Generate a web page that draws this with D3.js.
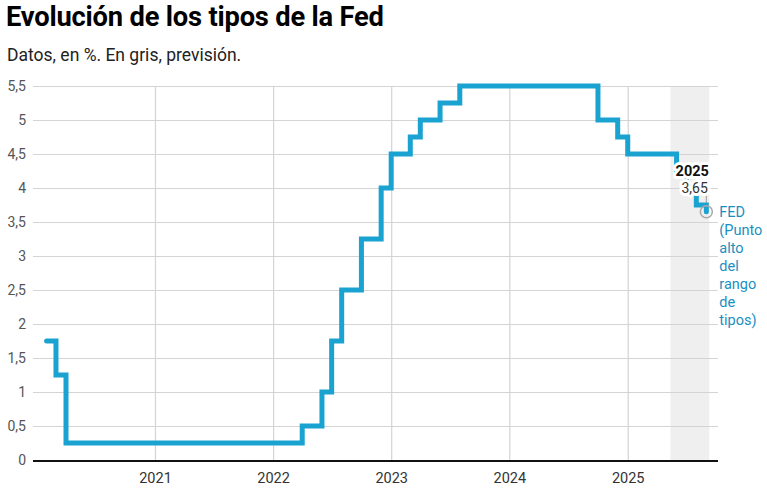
<!DOCTYPE html>
<html>
<head>
<meta charset="utf-8">
<script src="https://cdn.jsdelivr.net/npm/d3@7"></script>
<style>
  html, body { margin: 0; padding: 0; background: #fff; }
  svg { display: block; font-family: Roboto, "Noto Sans", sans-serif; }
</style>
</head>
<body>
<svg id="chart" width="767" height="491"></svg>
<script>
// ---- Data (step-after: each value holds until the next date) ----
const changeDates = ["2020-02-01","2020-03-01","2020-04-01","2022-04-01","2022-06-01","2022-07-01","2022-08-01","2022-10-01","2022-12-01","2023-01-01","2023-03-01","2023-04-01","2023-06-01","2023-08-01","2024-10-01","2024-12-01","2025-01-01","2025-06-01","2025-07-01","2025-08-01","2025-09-01"];
const rates = [1.75, 1.25, 0.25, 0.5, 1.0, 1.75, 2.5, 3.25, 4.0, 4.5, 4.75, 5.0, 5.25, 5.5, 5.0, 4.75, 4.5, 4.25, 4.0, 3.75, 3.65];
const yTicks = [0, 0.5, 1, 1.5, 2, 2.5, 3, 3.5, 4, 4.5, 5, 5.5];
const xTickYears = [2021, 2022, 2023, 2024, 2025];
const xDomain = ["2019-12-21", "2025-10-07"];
const forecastRange = ["2025-05-13", "2025-09-10"];
const title = "Evolución de los tipos de la Fed";
const subtitle = "Datos, en %. En gris, previsión.";
const seriesLabel = ["FED", "(Punto", "alto", "del", "rango", "de", "tipos)"];
const endLabelYear = "2025";

const parse = d3.timeParse("%Y-%m-%d");
const data = changeDates.map((d, i) => ({ date: parse(d), value: rates[i] }));
const fmt = v => String(v).replace(".", ",");

const svg = d3.select("#chart");
const M = { left: 33, right: 718, top: 86, bottom: 460 };

const x = d3.scaleTime().domain(xDomain.map(parse)).range([M.left, M.right]);
const y = d3.scaleLinear().domain([0, 5.5]).range([M.bottom, M.top]);

// Title & subtitle
svg.append("text").attr("x", 6).attr("y", 26)
  .attr("font-size", 27.3).attr("font-weight", 700).attr("fill", "#000")
  .attr("letter-spacing", -0.2).text(title);
svg.append("text").attr("x", 7).attr("y", 61)
  .attr("font-size", 17.5).attr("fill", "#222").text(subtitle);

// Forecast band
svg.append("rect")
  .attr("x", x(parse(forecastRange[0])))
  .attr("y", y(5.5))
  .attr("width", x(parse(forecastRange[1])) - x(parse(forecastRange[0])))
  .attr("height", y(0) - y(5.5))
  .attr("fill", "#efefef");

// Horizontal grid + y labels
const yAxis = d3.axisLeft(y).tickValues(yTicks).tickSize(-(M.right - M.left)).tickPadding(7)
  .tickFormat(fmt);
const gy = svg.append("g").attr("transform", `translate(${M.left},0)`).call(yAxis);
gy.select(".domain").remove();
gy.selectAll(".tick line").attr("stroke", "#d4d4d4").attr("stroke-width", 1);
gy.selectAll(".tick text").attr("font-size", 14).attr("fill", "#555")
  .attr("font-family", "Roboto, sans-serif");
gy.selectAll(".tick").filter(d => d === 0).select("line").remove();

// Vertical grid + x labels
const xAxis = d3.axisBottom(x).tickValues(xTickYears.map(yr => new Date(yr, 0, 1)))
  .tickSize(-(M.bottom - M.top)).tickPadding(13).tickFormat(d3.timeFormat("%Y"));
const gx = svg.append("g").attr("transform", `translate(0,${M.bottom})`).call(xAxis);
gx.select(".domain").remove();
gx.selectAll(".tick line").attr("stroke", "#d4d4d4").attr("stroke-width", 1.2);
gx.selectAll(".tick text").attr("font-size", 14.5).attr("fill", "#333")
  .attr("font-family", "Roboto, sans-serif");

// Baseline
svg.append("line").attr("x1", M.left).attr("x2", M.right)
  .attr("y1", y(0) + 1).attr("y2", y(0) + 1)
  .attr("stroke", "#111").attr("stroke-width", 2.2);

// Line
const line = d3.line().x(d => x(d.date)).y(d => y(d.value)).curve(d3.curveStepAfter);
const last = data[data.length - 1];
const px = x(last.date), py = y(last.value);

// leader line
svg.append("line").attr("x1", px).attr("x2", px).attr("y1", py - 17).attr("y2", py - 6)
  .attr("stroke", "#aaa").attr("stroke-width", 1.2);

svg.append("path").datum(data).attr("d", line)
  .attr("fill", "none").attr("stroke", "#1aa3d1").attr("stroke-width", 5)
  .attr("stroke-linejoin", "miter").attr("stroke-linecap", "round");

// End point circle
svg.append("circle").attr("cx", px).attr("cy", py).attr("r", 6)
  .attr("fill", "none").attr("stroke", "#a8a8a8").attr("stroke-width", 1.5);

// End labels with white halo
function halo(sel) {
  sel.attr("stroke", "#fff").attr("stroke-width", 6).attr("stroke-linejoin", "round")
    .attr("paint-order", "stroke");
}
svg.append("text").attr("x", px + 2.5).attr("y", py - 36).attr("text-anchor", "end")
  .attr("font-size", 14.5).attr("font-weight", 700).attr("fill", "#111")
  .text(endLabelYear).call(halo);
svg.append("text").attr("x", px + 1.5).attr("y", py - 19).attr("text-anchor", "end")
  .attr("font-size", 14).attr("fill", "#333")
  .text(fmt(last.value)).call(halo);

// Series label
const lbl = svg.append("text").attr("x", px + 13).attr("y", py + 5)
  .attr("font-size", 14.5).attr("fill", "#1a8fc0").call(halo);
lbl.selectAll("tspan").data(seriesLabel).join("tspan")
  .attr("x", px + 13).attr("dy", (d, i) => i === 0 ? 0 : 18).text(d => d);
</script>
</body>
</html>
